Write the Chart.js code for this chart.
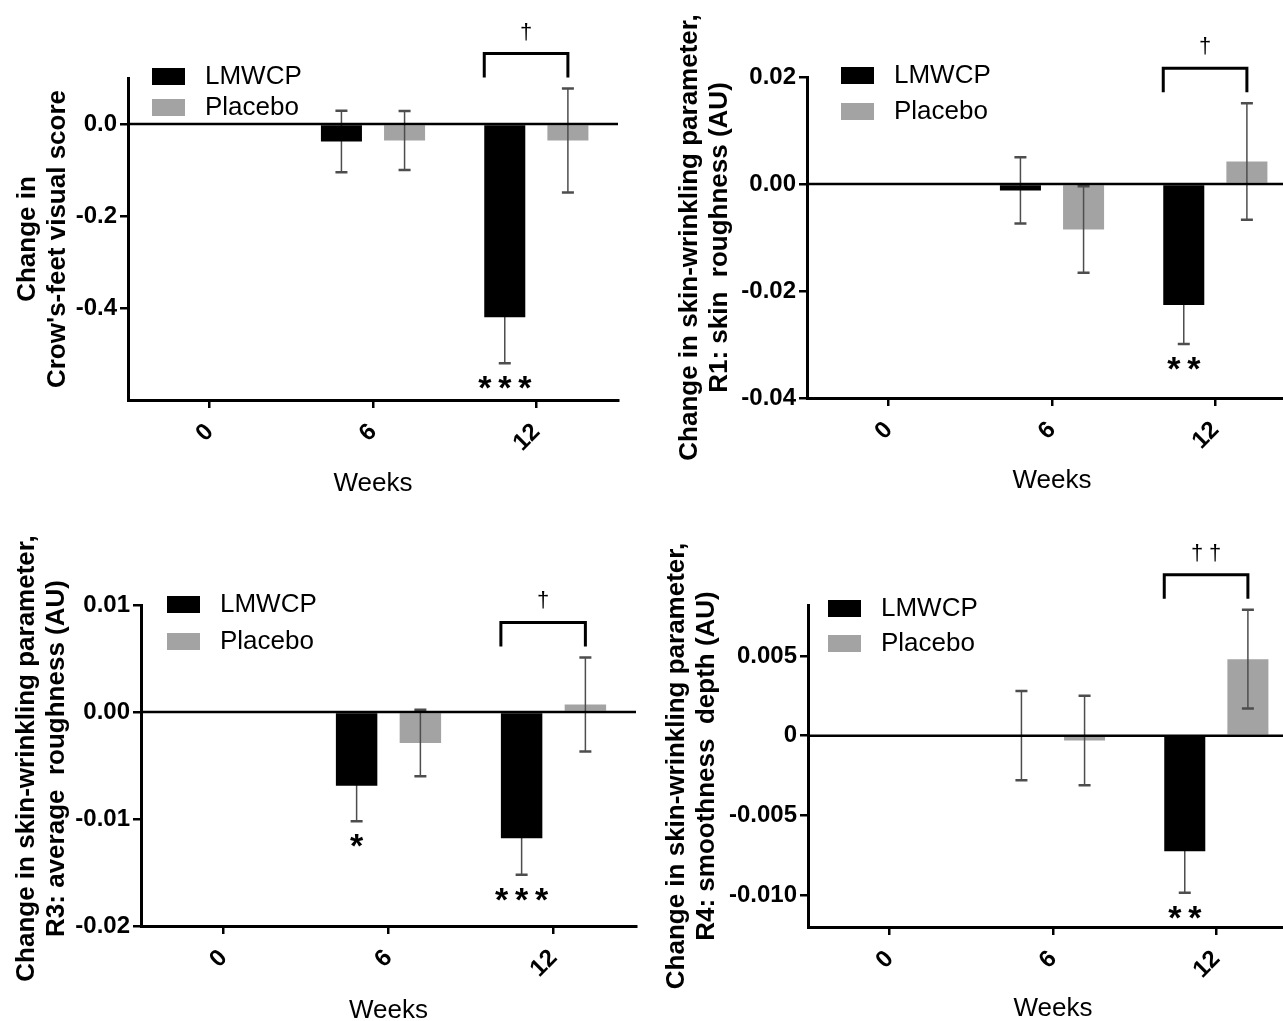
<!DOCTYPE html>
<html>
<head>
<meta charset="utf-8">
<title>Skin wrinkling parameters</title>
<script src="https://cdn.jsdelivr.net/npm/chart.js@4.4.0/dist/chart.umd.min.js"></script>
<style>
  html, body { margin: 0; padding: 0; background: #fff; overflow: hidden; }
  #page { position: relative; width: 1283px; height: 1021px; overflow: hidden; background: #fff; }
  #page canvas { position: absolute; }
</style>
</head>
<body>
<div id="page">
  <canvas id="crowChart" width="640" height="505" style="left:0px;top:0px"></canvas>
  <canvas id="r1Chart" width="660" height="505" style="left:640px;top:0px"></canvas>
  <canvas id="r3Chart" width="660" height="530" style="left:0px;top:510px"></canvas>
  <canvas id="r4Chart" width="660" height="530" style="left:640px;top:510px"></canvas>
</div>
<script>
const weeks = ['0', '6', '12'];
const seriesNames = ['LMWCP', 'Placebo'];

// crow's-feet visual score
const crowLmwcp = [0, -0.038, -0.42];
const crowLmwcpErr = [0, 0.067, 0.1];
const crowPlacebo = [0, -0.036, -0.036];
const crowPlaceboErr = [0, 0.064, 0.113];
const crowRange = [-0.6, 0.1];
const crowTicks = [-0.4, -0.2, 0];
const crowTickLabels = ['-0.4', '-0.2', '0.0'];
const crowStars = ['', '', '***'];
const crowDaggers = ['', '', '†'];
const crowTitle = ['Change in', "Crow's-feet visual score"];

// R1: skin roughness
const r1Lmwcp = [0, -0.0012, -0.0226];
const r1LmwcpErr = [0, 0.0062, 0.0073];
const r1Placebo = [0, -0.0085, 0.0042];
const r1PlaceboErr = [0, 0.0081, 0.0109];
const r1Range = [-0.04, 0.02];
const r1Ticks = [-0.04, -0.02, 0, 0.02];
const r1TickLabels = ['-0.04', '-0.02', '0.00', '0.02'];
const r1Stars = ['', '', '**'];
const r1Daggers = ['', '', '†'];
const r1Title = ['Change in skin-wrinkling parameter,', 'R1: skin  roughness (AU)'];

// R3: average roughness
const r3Lmwcp = [0, -0.0069, -0.0118];
const r3LmwcpErr = [0, 0.0033, 0.0034];
const r3Placebo = [0, -0.0029, 0.0007];
const r3PlaceboErr = [0, 0.0031, 0.0044];
const r3Range = [-0.02, 0.01];
const r3Ticks = [-0.02, -0.01, 0, 0.01];
const r3TickLabels = ['-0.02', '-0.01', '0.00', '0.01'];
const r3Stars = ['', '*', '***'];
const r3Daggers = ['', '', '†'];
const r3Title = ['Change in skin-wrinkling parameter,', 'R3: average  roughness (AU)'];

// R4: smoothness depth
const r4Lmwcp = [0, 0, -0.00725];
const r4LmwcpErr = [0, 0.0028, 0.0026];
const r4Placebo = [0, -0.0003, 0.0048];
const r4PlaceboErr = [0, 0.0028, 0.0031];
const r4Range = [-0.012, 0.0082];
const r4Ticks = [-0.01, -0.005, 0, 0.005];
const r4TickLabels = ['-0.010', '-0.005', '0', '0.005'];
const r4Stars = ['', '', '**'];
const r4Daggers = ['', '', '††'];
const r4Title = ['Change in skin-wrinkling parameter,', 'R4: smoothness  depth (AU)'];

const FONT = '"Liberation Sans", Arial, Helvetica, sans-serif';
Chart.defaults.font.family = FONT;
Chart.defaults.color = '#000';

const panels = {
    crowChart: {
        lmwcp: crowLmwcp, lmwcpErr: crowLmwcpErr, placebo: crowPlacebo, placeboErr: crowPlaceboErr,
        range: crowRange, ticks: crowTicks, tickLabels: crowTickLabels,
        stars: crowStars, daggers: crowDaggers, title: crowTitle,
        yWidth: 128, padTop: 78, padRight: 22, xHeight: 105, weeksPad: 6,
        titleX: 28, titleDy: 0, legendDx: 24, legendDy: -10, legendGap: 31
    },
    r1Chart: {
        lmwcp: r1Lmwcp, lmwcpErr: r1LmwcpErr, placebo: r1Placebo, placeboErr: r1PlaceboErr,
        range: r1Range, ticks: r1Ticks, tickLabels: r1TickLabels,
        stars: r1Stars, daggers: r1Daggers, title: r1Title,
        yWidth: 167, padTop: 77, padRight: 3, xHeight: 107, weeksPad: 9,
        titleX: 50, titleDy: 0, legendDx: 34, legendDy: -10, legendGap: 36
    },
    r3Chart: {
        lmwcp: r3Lmwcp, lmwcpErr: r3LmwcpErr, placebo: r3Placebo, placeboErr: r3PlaceboErr,
        range: r3Range, ticks: r3Ticks, tickLabels: r3TickLabels,
        stars: r3Stars, daggers: r3Daggers, title: r3Title,
        yWidth: 141, padTop: 95, padRight: 24, xHeight: 114, weeksPad: 14,
        titleX: 27, titleDy: -7, legendDx: 26, legendDy: -9, legendGap: 37
    },
    r4Chart: {
        lmwcp: r4Lmwcp, lmwcpErr: r4LmwcpErr, placebo: r4Placebo, placeboErr: r4PlaceboErr,
        range: r4Range, ticks: r4Ticks, tickLabels: r4TickLabels,
        stars: r4Stars, daggers: r4Daggers, title: r4Title,
        yWidth: 168, padTop: 95, padRight: 2, xHeight: 113, weeksPad: 16,
        titleX: 37, titleDy: 0, legendDx: 20, legendDy: -5, legendGap: 35
    }
};

function drawErrorBars(chart, index) {
    const ds = chart.data.datasets[index];
    const yScale = chart.scales.y;
    const ctx = chart.ctx;
    chart.getDatasetMeta(index).data.forEach((bar, j) => {
        const err = ds.errors[j];
        if (!err) return;
        const top = yScale.getPixelForValue(ds.data[j] + err);
        const bottom = yScale.getPixelForValue(ds.data[j] - err);
        ctx.save();
        ctx.strokeStyle = '#4d4d4d';
        ctx.lineWidth = 1.5;
        ctx.beginPath();
        ctx.moveTo(bar.x, top);
        ctx.lineTo(bar.x, bottom);
        ctx.stroke();
        ctx.lineWidth = 2.5;
        ctx.beginPath();
        ctx.moveTo(bar.x - 6, top); ctx.lineTo(bar.x + 6, top);
        ctx.moveTo(bar.x - 6, bottom); ctx.lineTo(bar.x + 6, bottom);
        ctx.stroke();
        ctx.restore();
    });
}

// black bars hide their own error line, grey bars show it on top
const errorBars = {
    id: 'errorBars',
    beforeDatasetDraw(chart, args) {
        if (chart.data.datasets[args.index].errorBehind) drawErrorBars(chart, args.index);
    },
    afterDatasetDraw(chart, args) {
        if (!chart.data.datasets[args.index].errorBehind) drawErrorBars(chart, args.index);
    }
};

function drawSpaced(ctx, text, cx, y, gap) {
    const chars = [...text];
    const start = cx - (chars.length - 1) * gap / 2;
    chars.forEach((c, k) => ctx.fillText(c, start + k * gap, y));
}

const panelExtras = {
    id: 'panelExtras',
    afterDatasetsDraw(chart) {
        const p = panels[chart.canvas.id];
        const ctx = chart.ctx;
        const area = chart.chartArea;
        const yScale = chart.scales.y;
        const zero = yScale.getPixelForValue(0);
        const meta0 = chart.getDatasetMeta(0);
        const meta1 = chart.getDatasetMeta(1);

        // zero line
        ctx.save();
        ctx.strokeStyle = '#000';
        ctx.lineWidth = 2.5;
        ctx.beginPath();
        ctx.moveTo(area.left, zero);
        ctx.lineTo(area.right, zero);
        ctx.stroke();

        // significance stars under LMWCP bars
        ctx.fillStyle = '#000';
        ctx.font = 'bold 34px ' + FONT;
        ctx.textAlign = 'center';
        ctx.textBaseline = 'alphabetic';
        p.stars.forEach((s, j) => {
            if (!s) return;
            const bar = meta0.data[j];
            const low = yScale.getPixelForValue(p.lmwcp[j] - p.lmwcpErr[j]);
            drawSpaced(ctx, s, bar.x, low + 36, 20);
        });

        // brackets with daggers between groups
        p.daggers.forEach((d, j) => {
            if (!d) return;
            const b0 = meta0.data[j];
            const b1 = meta1.data[j];
            const tops = [0, p.lmwcp[j] + p.lmwcpErr[j], p.placebo[j] + p.placeboErr[j]];
            const legY = yScale.getPixelForValue(Math.max(...tops)) - 11;
            const lineY = legY - 24;
            const x0 = b0.x - b0.width / 2;
            const x1 = b1.x;
            ctx.lineWidth = 3;
            ctx.beginPath();
            ctx.moveTo(x0, legY);
            ctx.lineTo(x0, lineY);
            ctx.lineTo(x1, lineY);
            ctx.lineTo(x1, legY);
            ctx.stroke();
            ctx.font = '22px ' + FONT;
            ctx.textBaseline = 'middle';
            drawSpaced(ctx, d, (x0 + x1) / 2, lineY - 21, 18);
        });
        ctx.restore();
    },
    afterDraw(chart) {
        const p = panels[chart.canvas.id];
        const ctx = chart.ctx;
        const area = chart.chartArea;

        // legend
        ctx.save();
        ctx.textAlign = 'left';
        ctx.textBaseline = 'middle';
        ctx.font = '26px ' + FONT;
        chart.data.datasets.forEach((ds, i) => {
            const x = area.left + p.legendDx;
            const y = area.top + p.legendDy + i * p.legendGap;
            ctx.fillStyle = ds.backgroundColor;
            ctx.fillRect(x, y, 33, 17);
            ctx.fillStyle = '#000';
            ctx.fillText(ds.label, x + 53, y + 9);
        });

        // y axis title, drawn here so long lines are not squeezed
        ctx.font = 'bold 26px ' + FONT;
        ctx.textAlign = 'center';
        const cy = (area.top + area.bottom) / 2 + p.titleDy;
        p.title.forEach((line, i) => {
            ctx.save();
            ctx.translate(p.titleX + i * 30, cy);
            ctx.rotate(-Math.PI / 2);
            ctx.fillText(line, 0, 0);
            ctx.restore();
        });
        ctx.restore();
    }
};

function buildPanel(id) {
    const p = panels[id];
    return new Chart(document.getElementById(id), {
        type: 'bar',
        data: {
            labels: weeks,
            datasets: [
                {
                    label: seriesNames[0], data: p.lmwcp, errors: p.lmwcpErr,
                    backgroundColor: '#000000', errorBehind: true,
                    categoryPercentage: 0.773, barPercentage: 0.65
                },
                {
                    label: seriesNames[1], data: p.placebo, errors: p.placeboErr,
                    backgroundColor: '#a3a3a3', errorBehind: false,
                    categoryPercentage: 0.773, barPercentage: 0.65
                }
            ]
        },
        options: {
            responsive: false,
            animation: false,
            layout: { padding: { top: p.padTop, right: p.padRight, left: 0, bottom: 0 } },
            scales: {
                x: {
                    grid: { drawOnChartArea: false, offset: false, tickLength: 8, lineWidth: 2.5, color: '#000' },
                    border: { width: 3, color: '#000' },
                    ticks: {
                        minRotation: 45, maxRotation: 45, padding: 10, color: '#000',
                        font: { size: 24, weight: 'bold' }
                    },
                    title: {
                        display: true, text: 'Weeks', color: '#000',
                        font: { size: 26 }, padding: { top: 0, bottom: p.weeksPad }
                    },
                    afterFit: s => { s.height = p.xHeight; }
                },
                y: {
                    min: p.range[0],
                    max: p.range[1],
                    grid: { drawOnChartArea: false, tickLength: 8, lineWidth: 2.5, color: '#000' },
                    border: { width: 3, color: '#000' },
                    ticks: {
                        padding: 3, color: '#000',
                        font: { size: 24, weight: 'bold' },
                        callback: value => p.tickLabels[p.ticks.indexOf(value)]
                    },
                    afterBuildTicks: s => { s.ticks = p.ticks.map(v => ({ value: v })); },
                    afterFit: s => { s.width = p.yWidth; }
                }
            },
            plugins: {
                legend: { display: false },
                tooltip: { enabled: false }
            }
        },
        plugins: [errorBars, panelExtras]
    });
}

document.addEventListener('DOMContentLoaded', function() {
    Object.keys(panels).forEach(buildPanel);
});
</script>
</body>
</html>
